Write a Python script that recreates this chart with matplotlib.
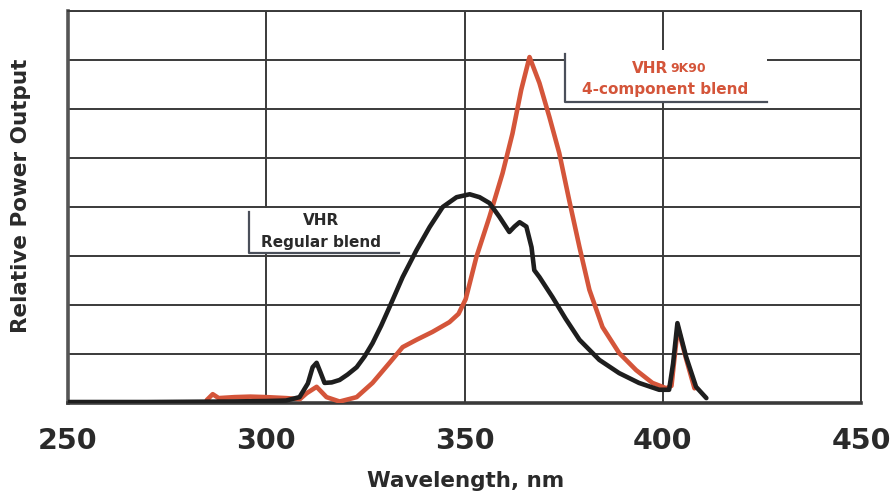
import matplotlib
matplotlib.use('Agg')
import matplotlib.pyplot as plt
from matplotlib.patches import Rectangle
import numpy as np

# VHR regular blend (black)
vhr_nm = [250, 270, 290, 300, 305, 308.4, 310.5, 311.7, 312.7, 313.7, 314.7, 316.5, 318.5, 320.5,
          322.8, 324.8, 326.8, 329, 331.1, 334.4, 337.9, 341.2, 344.5, 348, 351.3, 353.8, 356.3,
          358.8, 361.3, 362.6, 363.9, 365.6, 366.9, 367.6, 368.9, 372.2, 375.5, 379, 384, 389,
          394, 399.1, 401.6, 402.6, 403.7, 405.9, 408.4, 411]
vhr_val = [0.02, 0.02, 0.03, 0.04, 0.05, 0.12, 0.4, 0.73, 0.82, 0.62, 0.41, 0.42, 0.47, 0.58,
           0.73, 0.95, 1.22, 1.58, 1.96, 2.57, 3.12, 3.59, 4.0, 4.2, 4.26, 4.2, 4.08,
           3.8, 3.49, 3.6, 3.69, 3.6, 3.18, 2.71, 2.57, 2.16, 1.72, 1.29, 0.88, 0.61,
           0.41, 0.27, 0.27, 0.8, 1.63, 0.94, 0.33, 0.1]

# VHR 9K90 4-component blend (red)
k90_nm = [285, 286.5, 288, 292, 296, 300, 305, 308.5, 310.2, 312.7, 315.2, 318.5, 322.8, 326.8,
          331.1, 334.4, 337.9, 341.9, 346.2, 348.5, 350.3, 353, 356.3, 359.6, 362.1, 364.3, 366.4,
          368.9, 371.4, 373.9, 376.4, 379, 381.5, 384.8, 389, 393.3, 397.4, 400.9, 402.2, 403.8,
          405.9, 408]
k90_val = [0.06, 0.18, 0.1, 0.12, 0.13, 0.12, 0.1, 0.08, 0.2, 0.33, 0.12, 0.03, 0.12, 0.41,
           0.82, 1.14, 1.29, 1.45, 1.65, 1.82, 2.12, 2.98, 3.8, 4.69, 5.5, 6.39, 7.06,
           6.53, 5.84, 5.1, 4.14, 3.18, 2.31, 1.55, 1.02, 0.67, 0.41, 0.3, 0.35, 1.55,
           0.9, 0.3]

x_ticks = [250, 300, 350, 400, 450]
red = '#d4553a'
grid_c = '#3a3a3a'

fig = plt.figure(figsize=(8.93, 4.93), dpi=100)
ax = fig.add_axes([68/893, 1-403/493, (861-68)/893, (403-11)/493])
ax.set_xlim(250, 450)
ax.set_ylim(0, 8)

ax.set_xticks(x_ticks)
ax.set_yticks(np.arange(0, 9, 1))
ax.set_yticklabels([])
ax.grid(True, color=grid_c, linewidth=1.4, zorder=1)
ax.tick_params(axis='both', length=0)
ax.tick_params(axis='x', pad=17)
for lab in ax.get_xticklabels():
    lab.set_fontsize(20.5)
    lab.set_fontweight('heavy')
    lab.set_color('#2a2a2a')
for s in ax.spines.values():
    s.set_color(grid_c)
    s.set_linewidth(1.4)
ax.spines['left'].set_linewidth(2.6)
ax.spines['left'].set_color('#555555')
ax.spines['bottom'].set_linewidth(2.6)

ax.plot(k90_nm, k90_val, color=red, linewidth=3.3, solid_joinstyle='round',
        solid_capstyle='round', zorder=3)
ax.plot(vhr_nm, vhr_val, color='#1e1e1e', linewidth=3.3, solid_joinstyle='round',
        solid_capstyle='round', zorder=4)

# label boxes (white patch with left and bottom border)
def label_box(x0, x1, y0, y1):
    ax.add_patch(Rectangle((x0, y0), x1 - x0, y1 - y0, facecolor='white',
                           edgecolor='none', zorder=2))
    ax.plot([x0, x0, x1], [y1 - 0.08, y0, y0], color='#4a4f5a', linewidth=1.6, zorder=2.5)

label_box(295.7, 333.5, 3.06, 3.98)
ax.text(313.8, 3.72, 'VHR', ha='center', va='center', fontsize=11, fontweight='bold',
        color='#2a2a2a', zorder=5)
ax.text(313.8, 3.28, 'Regular blend', ha='center', va='center', fontsize=11, fontweight='bold',
        color='#2a2a2a', zorder=5)

label_box(375.4, 426.3, 6.14, 7.2)
ax.text(401.3, 6.82, 'VHR', ha='right', va='center', fontsize=11, fontweight='bold',
        color=red, zorder=5)
ax.text(402.0, 6.82, '9K90', ha='left', va='center', fontsize=9, fontweight='bold',
        color=red, zorder=5)
ax.text(400.5, 6.4, '4-component blend', ha='center', va='center', fontsize=11,
        fontweight='bold', color=red, zorder=5)

fig.text(21/893, 1-196/493, 'Relative Power Output', rotation=90, ha='center', va='center',
         fontsize=15.5, fontweight='bold', color='#2a2a2a')
fig.text(466/893, 1-481/493, 'Wavelength, nm', ha='center', va='center',
         fontsize=15.5, fontweight='bold', color='#2a2a2a')

fig.savefig('out.png', dpi=100, facecolor='white')
